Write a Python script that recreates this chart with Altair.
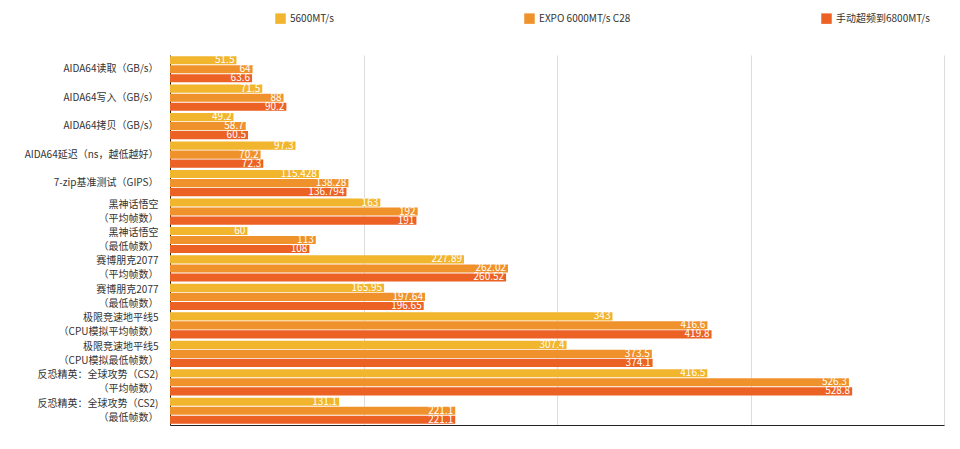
import altair as alt
import pandas as pd

categories = [
    "AIDA64读取（GB/s）",
    "AIDA64写入（GB/s）",
    "AIDA64拷贝（GB/s）",
    "AIDA64延迟（ns，越低越好）",
    "7-zip基准测试（GIPS）",
    "黑神话悟空|（平均帧数）",
    "黑神话悟空|（最低帧数）",
    "赛博朋克2077|（平均帧数）",
    "赛博朋克2077|（最低帧数）",
    "极限竞速地平线5|（CPU模拟平均帧数）",
    "极限竞速地平线5|（CPU模拟最低帧数）",
    "反恐精英：全球攻势（CS2)|（平均帧数）",
    "反恐精英：全球攻势（CS2)|（最低帧数）",
]
series = ["5600MT/s", "EXPO 6000MT/s C28", "手动超频到6800MT/s"]
v5600 = [51.5, 71.5, 49.2, 97.3, 115.428, 163, 60, 227.89, 165.95, 343, 307.4, 416.5, 131.1]
vexpo = [64, 88, 58.7, 70.2, 138.28, 192, 113, 262.02, 197.64, 416.6, 373.5, 526.3, 221.1]
vman = [63.6, 90.2, 60.5, 72.3, 136.794, 191, 108, 260.52, 196.65, 419.8, 374.1, 528.8, 221.1]
colors = ["#F2B52E", "#F0922C", "#EC6124"]

rows = []
for s, vals in zip(series, [v5600, vexpo, vman]):
    for c, v in zip(categories, vals):
        rows.append({"cat": c, "series": s, "value": v, "label": str(v)})
df = pd.DataFrame(rows)

FONT = "Noto Sans CJK SC"

base = alt.Chart(df).encode(
    y=alt.Y("cat:N", sort=categories, title=None,
            scale=alt.Scale(paddingInner=0.08, paddingOuter=0.04),
            axis=alt.Axis(labelExpr="split(datum.label, '|')", labelFont=FONT,
                          labelFontSize=10, labelColor="#333", ticks=False,
                          domainColor="#222", labelPadding=12, labelLineHeight=14,
                          labelOffset={"condition": {"test": "indexof(datum.value, '|') >= 0",
                                                     "value": -7},
                                       "value": 0})),
    yOffset=alt.YOffset("series:N", sort=series, scale=alt.Scale(paddingInner=0.1)),
)

bars = base.mark_bar().encode(
    x=alt.X("value:Q", title=None,
            scale=alt.Scale(domain=[0, 600]),
            axis=alt.Axis(values=[0, 150, 300, 450, 600], labels=False, ticks=False,
                          grid=True, gridColor="#dddddd", domainColor="#222")),
    color=alt.Color("series:N", sort=series,
                    scale=alt.Scale(domain=series, range=colors),
                    legend=alt.Legend(title=None, orient="none", direction="horizontal",
                                      legendX=105, legendY=-42, symbolType="square",
                                      symbolSize=110, symbolStrokeWidth=0,
                                      columnPadding=190, labelFont=FONT,
                                      labelFontSize=10, labelColor="#333")),
)

texts = base.mark_text(align="right", baseline="middle", dx=-2, color="white",
                       font=FONT, fontSize=10).encode(
    x="value:Q", text="label:N")

chart = (bars + texts).properties(
    width=774, height=370,
    padding={"left": 16, "top": 5, "right": 5, "bottom": 5},
).configure_view(stroke=None)

chart.save("out.html", embed_options={"renderer": "svg", "actions": False})
